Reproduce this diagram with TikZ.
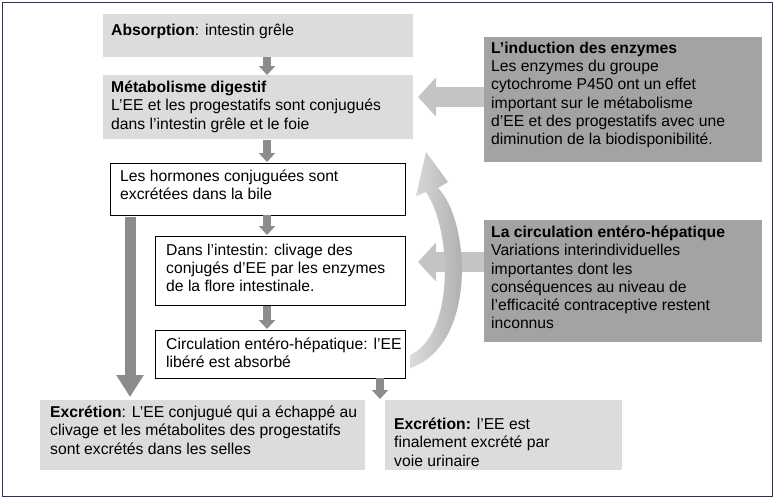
\documentclass[tikz,border=0pt]{standalone}
\usepackage{fontspec}
\setmainfont{Liberation Sans}
\usetikzlibrary{arrows.meta}
\definecolor{lg}{HTML}{DCDCDC}
\definecolor{dg}{HTML}{A3A3A3}
\definecolor{ag}{HTML}{8C8C8C}
\definecolor{la}{HTML}{C4C4C4}
\begin{document}
\begin{tikzpicture}[x=1pt,y=-1pt,
  txt/.style={anchor=north west,align=left,inner sep=0pt,font=\fontsize{15.7}{18.2}\selectfont},
  dn/.style={ag,line width=8pt,-{Triangle[length=9pt,width=16pt]}},
  lf/.style={la,line width=20pt,-{Triangle[length=18pt,width=38pt]}}]
\useasboundingbox (0,0) rectangle (775,499);
\draw[draw={rgb,255:red,40;green,50;blue,90},line width=1pt] (2,2) rectangle (772,496);
% boxes
\fill[lg] (103,14) rectangle (413,57);
\fill[lg] (103,75) rectangle (413,139);
\fill[dg] (484,37) rectangle (762,162);
\fill[dg] (484,220) rectangle (762,342);
\draw[fill=white,line width=0.8pt] (110,163) rectangle (405,215);
\draw[fill=white,line width=0.8pt] (155,236) rectangle (405,305);
\draw[fill=white,line width=0.8pt] (155,330) rectangle (405,378);
\fill[lg] (40,400) rectangle (365,470);
\fill[lg] (385,400) rectangle (622,470);
% texts
\node[txt] (t1) at (111,24) {\textbf{Absorption}: intestin grêle};
\node[txt] (t2) at (111,81) {\textbf{Métabolisme digestif}\\L’EE et les progestatifs sont conjugués\\dans l’intestin grêle et le foie};
\node[txt] (t3) at (491,42) {\textbf{L’induction des enzymes}\\Les enzymes du groupe\\cytochrome P450 ont un effet\\important sur le métabolisme\\d’EE et des progestatifs avec une\\diminution de la biodisponibilité.};
\node[txt] (t4) at (120,170) {Les hormones conjuguées sont\\excrétées dans la bile};
\node[txt] (t5) at (166,244) {Dans l’intestin: clivage des\\conjugés d’EE par les enzymes\\de la flore intestinale.};
\node[txt] (t6) at (491,226) {\textbf{La circulation entéro-hépatique}\\Variations interindividuelles\\importantes dont les\\conséquences au niveau de\\l’efficacité contraceptive restent\\inconnus};
\node[txt] (t7) at (166,338) {Circulation entéro-hépatique: l’EE\\libéré est absorbé};
\node[txt] (t8) at (50,406) {\textbf{Excrétion}: L’EE conjugué qui a échappé au\\clivage et les métabolites des progestatifs\\sont excrétés dans les selles};
\node[txt] (t9) at (394,418) {\textbf{Excrétion:} l’EE est\\finalement excrété par\\voie urinaire};
% down arrows
\draw[dn] (267,57) -- (267,75);
\draw[dn] (267,140) -- (267,162);
\draw[dn] (267,215) -- (267,235);
\draw[dn] (267,306) -- (267,329);
\draw[dn] (380,378) -- (380,399);
\draw[ag,line width=11pt,-{Triangle[length=22pt,width=26pt]}] (130,217) -- (130,397);
% left arrows
\draw[lf] (484,97) -- (418,97);
\draw[lf] (484,262) -- (418,262);
% curved arrow
\shade[left color=la!60!white,right color=ag!80!white] (410,368) .. controls (478,345) and (470,220) .. (438,188)
  -- (448,182) -- (426,152) -- (416,196) -- (426,192)
  .. controls (452,230) and (455,335) .. (410,355) -- cycle;
\end{tikzpicture}
\end{document}
